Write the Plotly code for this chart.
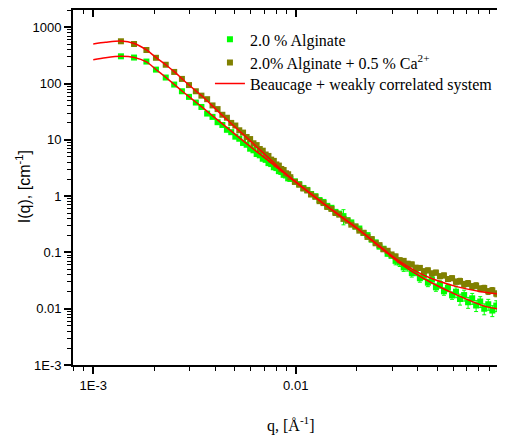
import plotly.graph_objects as go

# ---------------- data ----------------
q_data = [
    0.00137, 0.00159, 0.00183, 0.00204, 0.00228, 0.00251, 0.00274, 0.00297, 0.00321, 0.00342,
    0.00365, 0.00388, 0.00411, 0.00434, 0.00457, 0.00480, 0.00503, 0.00526, 0.00549, 0.00572,
    0.00595, 0.00618, 0.00641, 0.00664, 0.00687, 0.00710, 0.00733, 0.00756, 0.00779, 0.00802,
    0.00825, 0.00848, 0.00871, 0.00894, 0.00917, 0.00940,
    0.0099, 0.0104, 0.0109, 0.0114, 0.0119, 0.0125, 0.0131, 0.0137, 0.0143, 0.0150,
    0.0157, 0.0164, 0.0172, 0.0180, 0.0188, 0.0197, 0.0206, 0.0216, 0.0226, 0.0237,
    0.0248, 0.0259, 0.0271, 0.0284, 0.0297, 0.0311, 0.0326, 0.0341, 0.0357, 0.0374,
    0.0391, 0.0410, 0.0429, 0.0449, 0.0470, 0.0492, 0.0515, 0.0539, 0.0564, 0.0591,
    0.0618, 0.0647, 0.0678, 0.0709, 0.0743, 0.0777, 0.0814, 0.0852, 0.0892, 0.0934,
    0.0977, 0.1023, 0.1071,
]

I_green = [
    305, 290, 246, 177, 128, 96, 73, 58, 46, 38.4,
    29.3, 25.6, 20.6, 18.4, 15.09, 13.68, 11.39, 10.46, 8.81, 8.18,
    6.96, 6.52, 5.60, 5.31, 4.62, 4.41, 3.86, 3.71, 3.26, 3.15,
    2.78, 2.69, 2.39, 2.33, 2.07, 2.02,
    1.832, 1.632, 1.398, 1.290, 1.092, 0.996, 0.853, 0.789, 0.672, 0.6205,
    0.5253, 0.490, 0.442, 0.3745, 0.3415, 0.2884, 0.2661, 0.2211, 0.2028, 0.1685,
    0.1509, 0.1268, 0.1163, 0.0946, 0.0869, 0.0708, 0.0661, 0.0542, 0.0548, 0.0429,
    0.0455, 0.0348, 0.0387, 0.0290, 0.0328, 0.0240, 0.0272, 0.0204, 0.0236, 0.01726,
    0.0201, 0.01486, 0.01748, 0.01302, 0.01532, 0.01141, 0.01343, 0.00999, 0.01202, 0.00928,
    0.01137, 0.00898, 0.0105,
]

I_olive = [
    564, 505, 395, 287, 216, 161, 121, 94, 73, 61,
    52.8, 40.9, 35.2, 27.9, 24.7, 20.0, 17.97, 14.8, 13.46, 11.23,
    10.33, 8.70, 8.07, 6.87, 6.42, 5.49, 5.18, 4.46, 4.23, 3.66,
    3.49, 3.04, 2.91, 2.55, 2.45, 2.17,
    1.790, 1.595, 1.366, 1.260, 1.068, 0.973, 0.814, 0.753, 0.642, 0.592,
    0.5017, 0.468, 0.394, 0.366, 0.3115, 0.2884, 0.2437, 0.2236, 0.1884, 0.1728,
    0.1454, 0.1349, 0.1136, 0.1069, 0.0921, 0.0849, 0.0728, 0.0708, 0.0630, 0.0613,
    0.0535, 0.0531, 0.0464, 0.0481, 0.0424, 0.0439, 0.0378, 0.0391, 0.0337, 0.0349,
    0.0301, 0.0310, 0.0273, 0.0283, 0.0249, 0.0258, 0.0227, 0.0233, 0.0203, 0.0212,
    0.0185, 0.0198, 0.0172,
]

# relative errors in percent
err_green_pct = [3] * 10 + [4] * 26 + [8] * 12 + [30] + [8] * 12 + [15] * 15 + [22] * 13
err_olive_pct = [3] * 10 + [3] * 26 + [6] * 25 + [10] * 15 + [12] * 13

# fitted curves (Beaucage + weakly correlated system)
q_fit_olive = [1.000e-3, 1.150e-3, 1.370e-3, 1.594e-3, 1.831e-3, 2.040e-3, 2.286e-3, 2.512e-3,
               2.742e-3, 2.969e-3, 3.216e-3, 3.422e-3, 4.371e-3, 6.434e-3, 9.363e-3, 1.362e-2,
               2.005e-2, 3.270e-2, 4.263e-2, 6.231e-2, 8.123e-2, 0.1079]
I_fit_olive = [505, 541, 570, 515, 395, 291, 214, 163,
               122, 94.4, 73.9, 61.4, 26.6, 7.48, 2.15, 0.748,
               0.269, 0.0687, 0.0398, 0.0247, 0.0203, 0.0176]

q_fit_green = [1.000e-3, 1.150e-3, 1.370e-3, 1.594e-3, 1.831e-3, 2.040e-3, 2.286e-3, 2.512e-3,
               2.742e-3, 2.969e-3, 3.216e-3, 3.422e-3, 4.371e-3, 6.434e-3, 9.363e-3, 1.362e-2,
               2.005e-2, 3.270e-2, 4.263e-2, 6.231e-2, 8.690e-2, 0.1079]
I_fit_green = [266, 288, 305, 291, 242, 178, 128, 96.4,
               73.9, 58.5, 46.5, 38.9, 18.8, 6.10, 2.15, 0.748,
               0.269, 0.0638, 0.0348, 0.0176, 0.0109, 0.00952]

x_tickvals = [0.001, 0.01, 0.1]
x_ticktext = ["1E-3", "0.01", "0.1"]
y_tickvals = [0.001, 0.01, 0.1, 1, 10, 100, 1000]
y_ticktext = ["1E-3", "0.01", "0.1", "1", "10", "100", "1000"]

# ---------------- figure ----------------
GREEN = "#00FF00"
OLIVE = "#808000"
RED = "#FF0000"
SANS = "Liberation Sans, Arial, sans-serif"
SERIF = "Liberation Serif, Times New Roman, serif"

fig = go.Figure()

fig.add_trace(go.Scatter(
    x=q_data, y=I_green, mode="markers", name="2.0 % Alginate", legend="legend",
    marker=dict(symbol="square", size=6, color=GREEN, line=dict(width=0)),
    error_y=dict(type="data", array=[v * p / 100 for v, p in zip(I_green, err_green_pct)],
                 color=GREEN, thickness=1, width=2),
))
fig.add_trace(go.Scatter(
    x=q_data, y=I_olive, mode="markers", name="2.0% Alginate + 0.5 % Ca<sup>2+</sup>",
    legend="legend2",
    marker=dict(symbol="square", size=6, color=OLIVE, line=dict(width=0)),
    error_y=dict(type="data", array=[v * p / 100 for v, p in zip(I_olive, err_olive_pct)],
                 color=OLIVE, thickness=1, width=2),
))
fig.add_trace(go.Scatter(
    x=q_fit_olive, y=I_fit_olive, mode="lines", name="Beaucage + weakly correlated system",
    legend="legend3",
    line=dict(color=RED, width=1.5, shape="spline", smoothing=0.8),
))
fig.add_trace(go.Scatter(
    x=q_fit_green, y=I_fit_green, mode="lines", showlegend=False, xaxis="x2",
    line=dict(color=RED, width=1.5, shape="spline", smoothing=0.8),
))

xr = [-3.1, -0.967]
common_x = dict(type="log", range=xr, showgrid=False, zeroline=False,
                showline=True, linecolor="black", linewidth=1.8)

legend_style = dict(xanchor="left", yanchor="middle",
                    font=dict(family=SERIF, size=16, color="black"),
                    bgcolor="rgba(0,0,0,0)", borderwidth=0)

# the page body adds an 8 px margin, so the figure is 8 px smaller and
# its plot-area margins 8 px smaller on the left/top
fig.update_layout(
    width=497, height=429,
    margin=dict(l=65, r=0, t=2, b=72),
    paper_bgcolor="white", plot_bgcolor="white",
    showlegend=True,
    legend=dict(x=0.317, y=0.917, **legend_style),
    legend2=dict(x=0.317, y=0.852, **legend_style),
    legend3=dict(x=0.317, y=0.793, **legend_style),
    xaxis=dict(**common_x, side="bottom", anchor="y",
               ticks="outside", ticklen=7, tickwidth=1.5, tickcolor="black",
               tickvals=x_tickvals, ticktext=x_ticktext,
               tickfont=dict(family=SANS, size=13, color="black"),
               minor=dict(ticks="outside", ticklen=4, tickwidth=1.2, tickcolor="black",
                          dtick="D1", showgrid=False)),
    xaxis2=dict(**common_x, side="top", overlaying="x", anchor="y",
                ticks="inside", ticklen=7, tickwidth=1.5, tickcolor="black",
                tickvals=x_tickvals, showticklabels=False,
                minor=dict(ticks="inside", ticklen=4, tickwidth=1.2, tickcolor="black",
                           dtick="D1", showgrid=False)),
    yaxis=dict(type="log", range=[-3, 3.307], showgrid=False, zeroline=False,
               showline=True, linecolor="black", linewidth=1.8,
               ticks="outside", ticklen=7, tickwidth=1.5, tickcolor="black",
               tickvals=y_tickvals, ticktext=y_ticktext,
               tickfont=dict(family=SANS, size=13, color="black"),
               minor=dict(ticks="outside", ticklen=4, tickwidth=1.2, tickcolor="black",
                          dtick="D1", showgrid=False)),
    annotations=[
        dict(text="I(q), [cm<sup>-1</sup>]", xref="paper", yref="paper",
             x=-0.1157, y=0.501, textangle=-90, showarrow=False,
             xanchor="center", yanchor="middle",
             font=dict(family=SANS, size=16, color="black")),
        dict(text="q, [Å<sup>-1</sup>]", xref="paper", yref="paper",
             x=0.5046, y=-0.169, showarrow=False, xanchor="center", yanchor="middle",
             font=dict(family=SERIF, size=16, color="black")),
    ],
)

fig.write_html("out.html")
